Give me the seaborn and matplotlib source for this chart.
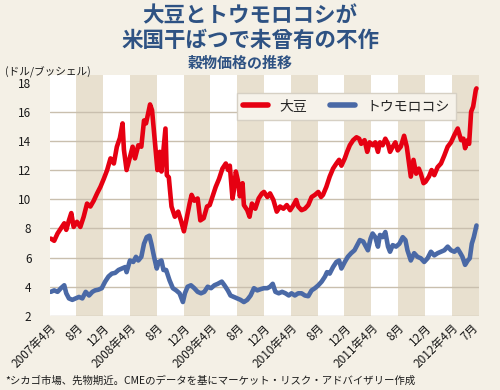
import numpy as np
import pandas as pd
import matplotlib
matplotlib.use('Agg')
import matplotlib.pyplot as plt
import seaborn as sns

# 月数（2007年4月 = 0）と価格（ドル/ブッシェル）
soy_m = [0.2, 0.7, 1.2, 1.7, 2.2, 2.5, 2.9, 3.25, 3.6, 4.1, 4.6, 5.1, 5.6, 6.1, 6.6, 7.1, 7.6,
         8.1, 8.6, 9.1, 9.6, 10.05, 10.5, 10.9, 11.1, 11.5, 12.0, 12.4, 12.75, 13.25, 13.7, 14.1,
         14.4, 15.0, 15.3, 15.7, 16.1, 16.45, 16.7, 16.9, 17.3, 17.5, 17.8, 18.2, 18.7, 19.2,
         19.6, 20.05, 20.4, 20.9, 21.2, 21.6, 22.1, 22.5, 23.0, 23.5, 23.9, 24.3, 24.8, 25.3,
         25.8, 26.3, 26.65, 26.9, 27.3, 27.5, 27.8, 28.1, 28.4, 28.8, 29.0, 29.5, 29.85, 30.2,
         30.7, 31.2, 31.7, 32.0, 32.5, 32.9, 33.4, 33.9, 34.4, 34.9, 35.4, 35.9, 36.4, 36.8,
         37.1, 37.6, 38.1, 38.6, 39.1, 39.6, 40.1, 40.5, 40.8, 41.3, 41.8, 42.3, 42.8, 43.2,
         43.55, 44.05, 44.4, 44.8, 45.3, 45.8, 46.2, 46.5, 47.0, 47.4, 47.75, 48.25, 48.6, 49.0,
         49.3, 49.7, 50.1, 50.5, 50.8, 51.2, 51.6, 51.95, 52.4, 52.9, 53.3, 53.7, 53.9, 54.3,
         54.7, 55.1, 55.4, 55.8, 56.1, 56.6, 57.0, 57.4, 57.9, 58.4, 58.9, 59.4, 59.9, 60.4,
         60.9, 61.4, 61.75, 62.0, 62.4, 62.6, 62.9, 63.2, 63.6, 63.7]
soy_v = [7.3, 7.15, 7.65, 8.0, 8.35, 7.9, 8.55, 9.05, 8.1, 8.45, 8.1, 8.8, 9.7, 9.5, 9.9, 10.4, 10.85,
         11.4, 12.0, 12.8, 12.45, 13.6, 14.2, 15.2, 13.4, 12.0, 12.9, 13.6, 12.8, 13.7, 13.6, 15.4,
         15.2, 16.5, 16.1, 14.05, 12.0, 13.25, 11.9, 12.9, 14.85, 11.65, 11.5, 9.5, 8.8, 9.15,
         8.55, 7.8, 8.55, 9.7, 10.3, 9.9, 10.05, 8.55, 8.7, 9.5, 9.6, 10.15, 10.85, 11.4,
         12.1, 12.45, 12.0, 12.3, 10.05, 10.6, 11.9, 11.3, 10.2, 11.1, 9.6, 9.25, 8.8, 9.7,
         9.35, 10.05, 10.4, 10.5, 10.15, 10.4, 9.95, 9.15, 9.5, 9.35, 9.6, 9.25, 9.6, 9.95,
         9.5, 9.25, 9.35, 9.6, 10.15, 10.3, 10.5, 10.15, 10.3, 10.85, 11.55, 12.1, 12.45, 12.7,
         12.3, 12.8, 13.25, 13.7, 14.05, 14.25, 14.15, 13.8, 14.05, 13.25, 13.9, 13.7, 13.9, 13.25,
         13.9, 13.7, 14.15, 13.8, 13.25, 13.6, 13.9, 13.35, 13.6, 14.35, 13.6, 12.2, 11.55, 12.7,
         11.75, 12.1, 11.75, 11.1, 11.2, 11.55, 12.0, 11.65, 12.2, 12.45, 13.0, 13.6, 13.9, 14.4,
         14.85, 14.05, 14.15, 13.5, 14.05, 13.8, 16.0, 16.35, 17.5, 17.6]

corn_m = [0.2, 0.7, 1.2, 1.7, 2.2, 2.5, 2.9, 3.4, 3.9, 4.4, 4.9, 5.4, 5.9, 6.4, 6.8, 7.3, 7.8,
          8.3, 8.8, 9.3, 9.8, 10.3, 10.8, 11.3, 11.5, 12.0, 12.5, 12.9, 13.25, 13.7, 14.1, 14.5,
          14.9, 15.2, 15.6, 16.0, 16.3, 16.7, 17.0, 17.4, 17.9, 18.4, 18.9, 19.4, 19.9, 20.2,
          20.6, 21.1, 21.6, 22.1, 22.6, 23.1, 23.6, 24.1, 24.6, 25.1, 25.7, 26.1, 26.6, 27.0,
          27.5, 28.0, 28.5, 29.0, 29.5, 30.0, 30.5, 31.0, 31.6, 32.0, 32.5, 32.9, 33.3, 33.7,
          34.2, 34.7, 35.2, 35.7, 36.1, 36.6, 37.1, 37.6, 38.1, 38.6, 39.1, 39.6, 40.1, 40.6,
          41.1, 41.4, 41.8, 42.3, 42.8, 43.2, 43.55, 44.05, 44.5, 45.0, 45.5, 45.9, 46.3, 46.8,
          47.2, 47.5, 47.9, 48.2, 48.6, 49.0, 49.3, 49.7, 50.1, 50.5, 50.8, 51.2, 51.7, 52.2,
          52.7, 53.1, 53.4, 53.9, 54.4, 54.9, 55.4, 55.9, 56.4, 56.9, 57.4, 57.9, 58.4, 58.9,
          59.4, 59.9, 60.4, 60.9, 61.3, 61.6, 62.0, 62.4, 62.7, 63.0, 63.3, 63.7]
corn_v = [3.65, 3.75, 3.65, 3.9, 4.1, 3.55, 3.2, 3.1, 3.2, 3.3, 3.2, 3.65, 3.4, 3.65, 3.75, 3.8, 3.9,
          4.35, 4.7, 4.9, 4.95, 5.15, 5.25, 5.35, 5.0, 5.8, 5.7, 6.05, 5.8, 6.05, 6.95, 7.4,
          7.5, 6.95, 6.05, 5.25, 5.7, 5.8, 5.15, 5.15, 4.45, 3.9, 3.75, 3.55, 2.95, 3.55,
          4.0, 4.1, 3.9, 3.65, 3.55, 3.65, 4.0, 3.9, 4.1, 4.2, 4.35, 4.1, 3.75, 3.4,
          3.3, 3.2, 3.1, 2.95, 3.1, 3.4, 3.9, 3.75, 3.85, 3.9, 3.9, 4.0, 4.2, 3.65,
          3.55, 3.65, 3.55, 3.4, 3.55, 3.4, 3.55, 3.55, 3.4, 3.35, 3.75, 3.9, 4.1, 4.35,
          4.7, 5.0, 4.9, 5.35, 5.7, 5.8, 5.25, 5.7, 6.05, 6.3, 6.5, 6.85, 7.2, 7.1,
          6.75, 6.5, 7.3, 7.65, 7.4, 6.75, 7.55, 7.4, 7.75, 6.75, 6.4, 6.85, 6.75, 6.95,
          7.4, 7.2, 6.5, 5.8, 6.3, 6.05, 5.95, 5.7, 5.95, 6.4, 6.15, 6.3, 6.4, 6.5,
          6.75, 6.5, 6.4, 6.6, 6.3, 6.05, 5.5, 5.8, 5.95, 6.95, 7.4, 8.2]

tick_pos = [0, 4, 8, 12, 16, 20, 24, 28, 32, 36, 40, 44, 48, 52, 56, 60, 63]
tick_labels = ['2007年4月', '8月', '12月', '2008年4月', '8月', '12月', '2009年4月', '8月', '12月',
               '2010年4月', '8月', '12月', '2011年4月', '8月', '12月', '2012年4月', '7月']
y_ticks = [2, 4, 6, 8, 10, 12, 14, 16, 18]

df = pd.concat([
    pd.DataFrame({'月': soy_m, '価格': soy_v, '品目': '大豆'}),
    pd.DataFrame({'月': corn_m, '価格': corn_v, '品目': 'トウモロコシ'}),
])

sns.set_theme(style='white')
plt.rcParams['font.family'] = ['Noto Sans CJK JP', 'DejaVu Sans']

bg = '#f4f0e6'
tan = '#e8e0cf'
navy = '#2e5283'

fig = plt.figure(figsize=(5, 3.9), dpi=100, facecolor=bg)
ax = fig.add_axes([0.099, 0.19, 0.858, 0.617])
ax.set_facecolor('white')

# 4か月ごとの縞
for s in range(4, 64, 8):
    ax.axvspan(s, s + 4, color=tan, lw=0, zorder=0)
for y in y_ticks[:-1]:
    ax.axhline(y, color='#c9bfae', lw=1, zorder=1)

sns.lineplot(data=df, x='月', y='価格', hue='品目', palette={'大豆': '#e60012', 'トウモロコシ': '#4a69a6'},
             linewidth=3.3, ax=ax, legend=True, zorder=3)

ax.set_xlim(0, 64)
ax.set_ylim(2, 18.5)
ax.set_xticks(tick_pos)
ax.set_xticklabels(tick_labels, rotation=45, ha='right', rotation_mode='anchor', fontsize=8.5,
                   color='#1a1a1a')
ax.set_yticks(y_ticks)
ax.set_yticklabels([str(v) for v in y_ticks], fontsize=8.5, color='#1a1a1a')
ax.tick_params(axis='both', length=0)
ax.tick_params(axis='y', pad=13)
ax.tick_params(axis='x', pad=4)
ax.set_xlabel('')
ax.set_ylabel('')
for sp in ax.spines.values():
    sp.set_visible(False)

leg = ax.legend(loc='upper left', bbox_to_anchor=(0.42, 0.955), ncol=2, fontsize=10,
                frameon=True, facecolor='#f6f2ea', edgecolor='#d6d0c4', framealpha=1,
                handlelength=1.8, columnspacing=1.7, borderpad=0.45, fancybox=False)
for line in leg.get_lines():
    line.set_linewidth(4)
    line.set_solid_capstyle('round')

fig.text(0.5, 0.96, '大豆とトウモロコシが', ha='center', va='center', fontsize=15.5,
         fontweight='bold', color=navy)
fig.text(0.5, 0.897, '米国干ばつで未曾有の不作', ha='center', va='center', fontsize=15.5,
         fontweight='bold', color=navy)
fig.text(0.48, 0.838, '穀物価格の推移', ha='center', va='center', fontsize=10.8,
         fontweight='bold', color=navy)
fig.text(0.01, 0.814, '(ドル/ブッシェル)', ha='left', va='center', fontsize=7.7, color='#1a1a1a')
fig.text(0.01, 0.024, '*シカゴ市場、先物期近。CMEのデータを基にマーケット・リスク・アドバイザリー作成',
         ha='left', va='center', fontsize=7.5, color='#1a1a1a')

fig.savefig('out.png', dpi=100, facecolor=bg)
